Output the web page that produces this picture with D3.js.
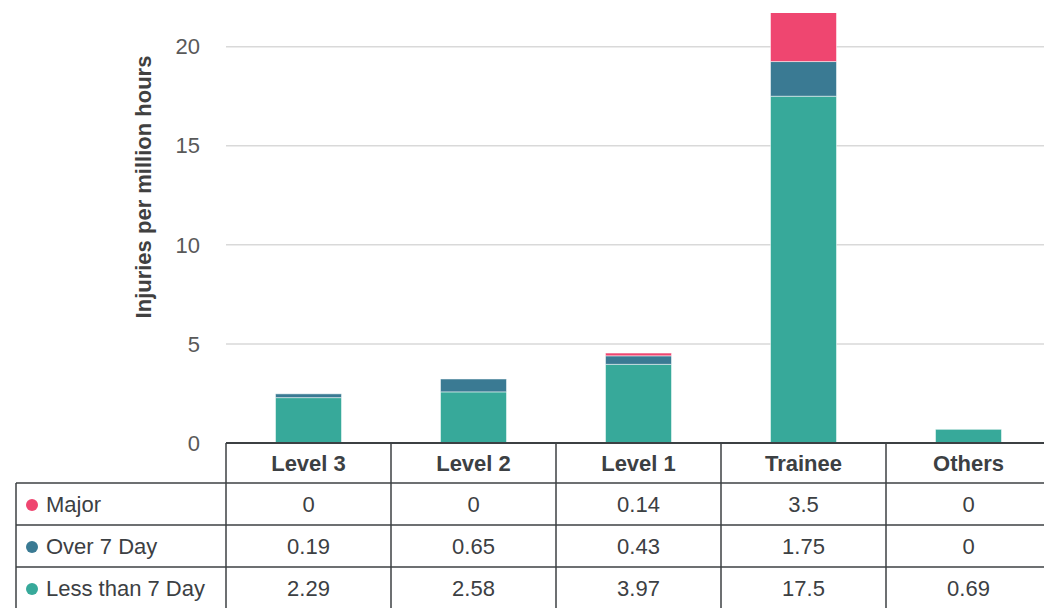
<!DOCTYPE html>
<html>
<head>
<meta charset="utf-8">
<script src="https://cdn.jsdelivr.net/npm/d3@7"></script>
<style>
  body { margin: 0; background: #fff; }
  svg { display: block; font-family: "Liberation Sans", Arial, sans-serif; }
</style>
</head>
<body>
<div class="chart"></div>
<script>
const categories = ['Level 3', 'Level 2', 'Level 1', 'Trainee', 'Others']
const seriesNames = ['Major', 'Over 7 Day', 'Less than 7 Day']
const major = [0, 0, 0.14, 3.5, 0]
const over7 = [0.19, 0.65, 0.43, 1.75, 0]
const less7 = [2.29, 2.58, 3.97, 17.5, 0.69]
const yTicks = [0, 5, 10, 15, 20]
const colors = ['#ef4670', '#3a7a93', '#37a99a']

const W = 1044, H = 608
const left = 226, bandW = 165
const y0 = 443, yTop = 13
const fs = 22

const svg = d3.select('.chart').append('svg')
  .attr('width', W).attr('height', H)

const x = d3.scaleBand()
  .domain(categories)
  .range([left, left + bandW * categories.length])
  .paddingInner(0.6).paddingOuter(0.3)

const y = d3.scaleLinear()
  .domain([0, 21.7])
  .range([y0, yTop])

// gridlines
svg.append('g').selectAll('line')
  .data(yTicks.filter(d => d > 0))
  .enter().append('line')
  .attr('x1', left).attr('x2', W)
  .attr('y1', d => y(d)).attr('y2', d => y(d))
  .attr('stroke', '#d9d9d9').attr('stroke-width', 1.5)

// tick labels
svg.append('g').selectAll('text')
  .data(yTicks)
  .enter().append('text')
  .attr('x', 200).attr('y', d => y(d))
  .attr('dy', '0.35em')
  .attr('text-anchor', 'end')
  .attr('font-size', fs).attr('fill', '#595959')
  .text(d => d)

svg.append('text')
  .attr('transform', `translate(143,187) rotate(-90)`)
  .attr('text-anchor', 'middle')
  .attr('dy', '0.35em')
  .attr('font-size', fs).attr('font-weight', 'bold').attr('fill', '#404040')
  .text('Injuries per million hours')

// stacked bars, clipped to the plot area
svg.append('clipPath').attr('id', 'plot')
  .append('rect').attr('x', left).attr('y', yTop).attr('width', W - left).attr('height', y0 - yTop)

const rows = categories.map((c, i) => ({cat: c, less: less7[i], over: over7[i], major: major[i]}))
const stack = d3.stack().keys(['less', 'over', 'major'])(rows)
const keyColor = {less: colors[2], over: colors[1], major: colors[0]}

svg.append('g').attr('clip-path', 'url(#plot)')
  .selectAll('g').data(stack).enter().append('g')
  .attr('fill', d => keyColor[d.key])
  .selectAll('rect').data(d => d).enter().append('rect')
  .attr('x', d => x(d.data.cat))
  .attr('width', x.bandwidth())
  .attr('y', d => y(d[1]))
  .attr('height', d => y(d[0]) - y(d[1]))
  .attr('stroke', '#ffffff').attr('stroke-opacity', 0.5).attr('stroke-width', 1)

// data table
const lineCol = '#3c4043'
const rowY = [443, 483, 525, 567, 609]
const tbl = svg.append('g')
const colEdges = d3.range(categories.length + 1).map(i => left + i * bandW)

tbl.append('line').attr('x1', left).attr('x2', W).attr('y1', rowY[0]).attr('y2', rowY[0])
  .attr('stroke', lineCol).attr('stroke-width', 1.8)
for (let r = 1; r < rowY.length; r++) {
  tbl.append('line').attr('x1', 16).attr('x2', W).attr('y1', rowY[r]).attr('y2', rowY[r])
    .attr('stroke', lineCol).attr('stroke-width', 1.5)
}
tbl.selectAll('line.col').data(colEdges).enter().append('line')
  .attr('x1', d => d).attr('x2', d => d)
  .attr('y1', rowY[0]).attr('y2', H)
  .attr('stroke', lineCol).attr('stroke-width', 1.5)
tbl.append('line').attr('x1', 16).attr('x2', 16).attr('y1', rowY[1]).attr('y2', H)
  .attr('stroke', lineCol).attr('stroke-width', 1.5)

tbl.selectAll('text.head').data(categories).enter().append('text')
  .attr('x', (d, i) => colEdges[i] + bandW / 2)
  .attr('y', (rowY[0] + rowY[1]) / 2).attr('dy', '0.35em')
  .attr('text-anchor', 'middle').attr('font-size', fs).attr('font-weight', 'bold')
  .attr('fill', '#3c4043').text(d => d)

const seriesVals = [major, over7, less7]
seriesNames.forEach((name, s) => {
  const cy = (rowY[s + 1] + rowY[s + 2]) / 2
  tbl.append('circle').attr('cx', 32).attr('cy', cy + 1).attr('r', 6).attr('fill', colors[s])
  tbl.append('text').attr('x', 46).attr('y', cy).attr('dy', '0.35em')
    .attr('font-size', fs).attr('fill', '#3c4043').text(name)
  tbl.selectAll(null).data(seriesVals[s]).enter().append('text')
    .attr('x', (d, i) => colEdges[i] + bandW / 2)
    .attr('y', cy).attr('dy', '0.35em')
    .attr('text-anchor', 'middle').attr('font-size', fs).attr('fill', '#3c4043')
    .text(d => d)
})
</script>
</body>
</html>
